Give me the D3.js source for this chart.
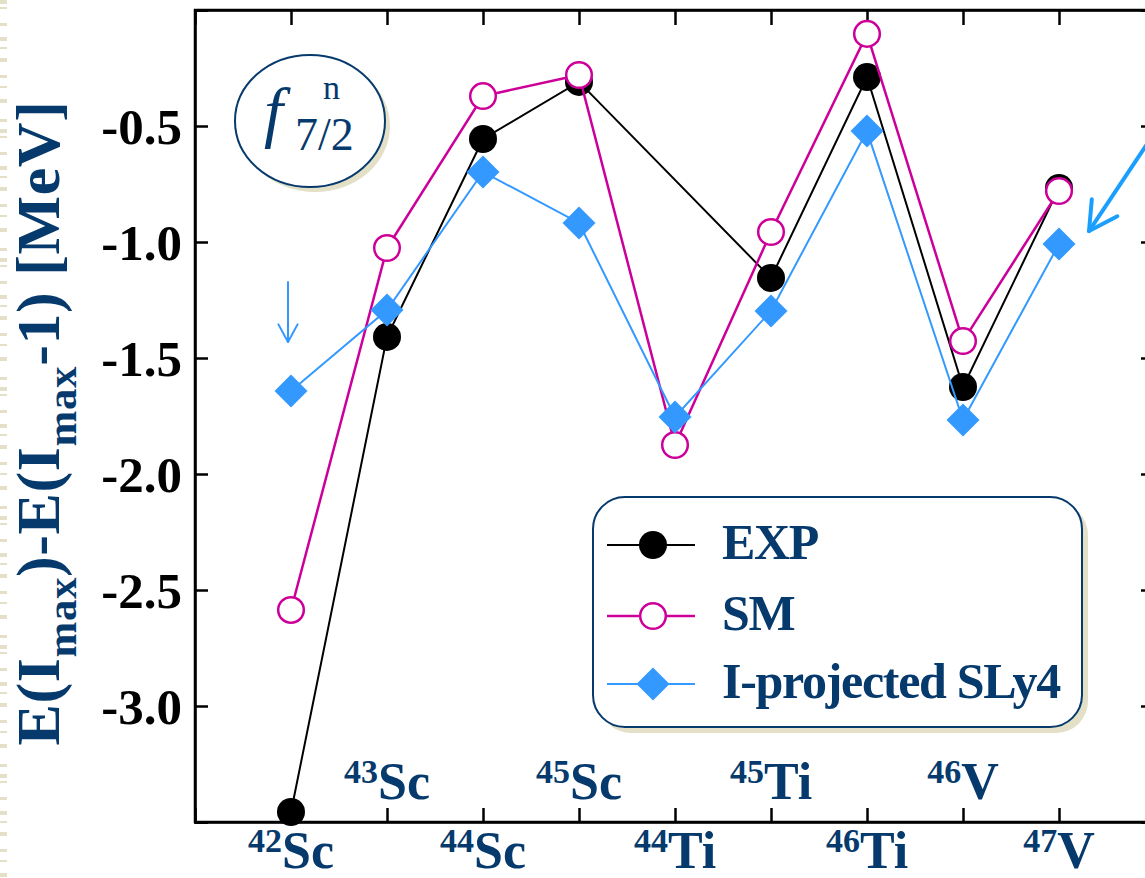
<!DOCTYPE html>
<html>
<head>
<meta charset="utf-8">
<script src="https://cdn.jsdelivr.net/npm/d3@7"></script>
<style>
  body { margin: 0; background: #fff; }
  svg { display: block; }
</style>
</head>
<body>
<svg id="chart" width="1145" height="878"></svg>
<script>
// Nuclei along the x axis (mass number + element symbol)
const massNumbers = ["42", "43", "44", "45", "44", "45", "46", "46", "47"];
const elements = ["Sc", "Sc", "Sc", "Sc", "Ti", "Ti", "Ti", "V", "V"];

// E(Imax) - E(Imax-1) in MeV
const expValues  = [-3.457, -1.409, -0.556, -0.310, null, -1.155, -0.289, -1.625, -0.767];
const smValues   = [-2.586, -1.026, -0.371, -0.280, -1.875, -0.957, -0.103, -1.427, -0.780];
const sly4Values = [-1.642, -1.293, -0.698, -0.918, -1.754, -1.297, -0.522, -1.767, -1.009];

const seriesNames = ["EXP", "SM", "I-projected SLy4"];

const yTicks = [0, -0.5, -1.0, -1.5, -2.0, -2.5, -3.0, -3.5];
const yTickLabels = ["", "-0.5", "-1.0", "-1.5", "-2.0", "-2.5", "-3.0", ""];

const NAVY = "#063a6d";
const MAGENTA = "#cc0099";
const BLUE = "#3399ff";
const BEIGE = "#e3e0c7";
const SERIF = "'Liberation Serif', 'Times New Roman', serif";

const svg = d3.select("#chart");

// decorative dashed strip on the page's left edge
svg.append("line")
  .attr("x1", 3.5).attr("x2", 3.5).attr("y1", 0).attr("y2", 878)
  .attr("stroke", BEIGE).attr("stroke-width", 7)
  .attr("stroke-dasharray", "4 3 2 14 3 11 4 6 2 9 4 13 3 8 2 11 4 16 3 7");

const plot = { left: 195, top: 10, right: 1155, bottom: 822 };

const x = d3.scaleLinear()
  .domain([-1, massNumbers.length])
  .range([plot.left, plot.right]);
const y = d3.scaleLinear()
  .domain([-3.5, 0])
  .range([plot.bottom, plot.top]);

const idx = d3.range(massNumbers.length);

// frame
svg.append("rect")
  .attr("x", plot.left).attr("y", plot.top)
  .attr("width", plot.right - plot.left).attr("height", plot.bottom - plot.top)
  .attr("fill", "none").attr("stroke", "#000").attr("stroke-width", 2.5);

function styleAxis(g) {
  g.select(".domain").attr("stroke", "#000").attr("stroke-width", 2.5);
  g.selectAll(".tick line").attr("stroke", "#000").attr("stroke-width", 2.5);
}

// x axes (ticks inward, no labels)
svg.append("g").attr("transform", `translate(0,${plot.bottom})`)
  .call(d3.axisBottom(x).tickValues(idx).tickSize(-14).tickFormat(""))
  .call(styleAxis);
svg.append("g").attr("transform", `translate(0,${plot.top})`)
  .call(d3.axisTop(x).tickValues(idx).tickSize(-15).tickFormat(""))
  .call(styleAxis);

// y axes
const yLeft = svg.append("g").attr("transform", `translate(${plot.left},0)`)
  .call(d3.axisLeft(y).tickValues(yTicks).tickSize(-13).tickPadding(13)
    .tickFormat((d, i) => yTickLabels[i]))
  .call(styleAxis);
yLeft.selectAll(".tick text")
  .attr("font-family", SERIF).attr("font-weight", "bold")
  .attr("font-size", 51).attr("fill", "#000").attr("dy", "0.34em");
svg.append("g").attr("transform", `translate(${plot.right},0)`)
  .call(d3.axisRight(y).tickValues(yTicks).tickSize(-14).tickFormat(""))
  .call(styleAxis);

// category labels: alternately below the axis and just above it
const catLabels = svg.append("g").attr("fill", NAVY)
  .attr("font-family", SERIF).attr("font-weight", "bold");
idx.forEach(i => {
  const t = catLabels.append("text")
    .attr("x", x(i))
    .attr("y", i % 2 === 0 ? 868 : 799)
    .attr("text-anchor", "middle");
  t.append("tspan").attr("font-size", 34).attr("dy", -16).text(massNumbers[i]);
  t.append("tspan").attr("font-size", 52).attr("dy", 16).text(elements[i]);
});

// y axis title
const yTitle = svg.append("text")
  .attr("transform", "translate(59,423) rotate(-90)")
  .attr("text-anchor", "middle")
  .attr("font-family", SERIF).attr("font-weight", "bold")
  .attr("font-size", 62).attr("fill", NAVY)
  .attr("letter-spacing", 0.6);
yTitle.append("tspan").text("E(I");
yTitle.append("tspan").attr("font-size", 43).attr("dy", 17).text("max");
yTitle.append("tspan").attr("dy", -17).text(")-E(I");
yTitle.append("tspan").attr("font-size", 43).attr("dy", 17).text("max");
yTitle.append("tspan").attr("dy", -17).text("-1) [MeV]");

// shell label in an ellipse
const shell = svg.append("g");
shell.append("ellipse").attr("cx", 315).attr("cy", 126).attr("rx", 75).attr("ry", 66)
  .attr("fill", BEIGE);
shell.append("ellipse").attr("cx", 310).attr("cy", 121).attr("rx", 75).attr("ry", 66)
  .attr("fill", "#fff").attr("stroke", NAVY).attr("stroke-width", 2);
shell.append("text").attr("x", 264).attr("y", 135)
  .attr("font-family", SERIF).attr("font-style", "italic")
  .attr("font-size", 68).attr("fill", NAVY).text("f");
shell.append("text").attr("x", 295).attr("y", 150)
  .attr("font-family", SERIF).attr("font-size", 46).attr("fill", NAVY).text("7/2");
shell.append("text").attr("x", 323).attr("y", 99)
  .attr("font-family", SERIF).attr("font-size", 34).attr("fill", NAVY).text("n");

// series
const diamond = d3.symbol(d3.symbolSquare, 545);

function drawLine(values, color, width) {
  const pts = idx.filter(i => values[i] !== null);
  svg.append("path")
    .datum(pts)
    .attr("fill", "none").attr("stroke", color).attr("stroke-width", width)
    .attr("d", d3.line().x(i => x(i)).y(i => y(values[i])));
  return pts;
}

const expPts = drawLine(expValues, "#000", 2);
svg.append("g").selectAll("circle").data(expPts).join("circle")
  .attr("cx", i => x(i)).attr("cy", i => y(expValues[i])).attr("r", 14)
  .attr("fill", "#000");

const smPts = drawLine(smValues, MAGENTA, 2.5);
svg.append("g").selectAll("circle").data(smPts).join("circle")
  .attr("cx", i => x(i)).attr("cy", i => y(smValues[i])).attr("r", 12.8)
  .attr("fill", "#fff").attr("stroke", MAGENTA).attr("stroke-width", 2.5);

const slyPts = drawLine(sly4Values, BLUE, 2);
svg.append("g").selectAll("path").data(slyPts).join("path")
  .attr("transform", i => `translate(${x(i)},${y(sly4Values[i])}) rotate(45)`)
  .attr("d", diamond()).attr("fill", BLUE);

// arrows marking the first and last SLy4 points
function arrow(x1, y1, x2, y2, head, spread, color, width) {
  const a = Math.atan2(y2 - y1, x2 - x1);
  const g = svg.append("g").attr("stroke", color).attr("stroke-width", width)
    .attr("fill", "none").attr("stroke-linecap", "round").attr("stroke-linejoin", "round");
  g.append("line").attr("x1", x1).attr("y1", y1).attr("x2", x2).attr("y2", y2);
  const p1 = [x2 - head * Math.cos(a - spread), y2 - head * Math.sin(a - spread)];
  const p2 = [x2 - head * Math.cos(a + spread), y2 - head * Math.sin(a + spread)];
  g.append("polyline").attr("points", `${p1} ${x2},${y2} ${p2}`);
}
const firstX = x(0), firstY = y(sly4Values[0]);
arrow(firstX - 3, firstY - 109, firstX - 3, firstY - 49, 20, 0.5, BLUE, 2);
const lastX = x(idx.length - 1), lastY = y(sly4Values[idx.length - 1]);
arrow(lastX + 92, lastY - 106, lastX + 30, lastY - 13, 32, 0.5, "#1a9fff", 4);

// legend
const lg = svg.append("g");
lg.append("rect").attr("x", 599).attr("y", 503).attr("width", 489).attr("height", 230)
  .attr("rx", 32).attr("fill", BEIGE);
lg.append("rect").attr("x", 593).attr("y", 497).attr("width", 489).attr("height", 230)
  .attr("rx", 32).attr("fill", "#fff").attr("stroke", NAVY).attr("stroke-width", 2);

const legendRows = [545, 616, 684];
const legendColors = ["#000", MAGENTA, BLUE];
legendRows.forEach((ly, k) => {
  lg.append("line").attr("x1", 607).attr("x2", 695).attr("y1", ly).attr("y2", ly)
    .attr("stroke", legendColors[k]).attr("stroke-width", k === 1 ? 2.5 : 2);
  if (k === 0) {
    lg.append("circle").attr("cx", 653).attr("cy", ly).attr("r", 14).attr("fill", "#000");
  } else if (k === 1) {
    lg.append("circle").attr("cx", 653).attr("cy", ly).attr("r", 12.8)
      .attr("fill", "#fff").attr("stroke", MAGENTA).attr("stroke-width", 2.5);
  } else {
    lg.append("path").attr("transform", `translate(653,${ly}) rotate(45)`)
      .attr("d", diamond()).attr("fill", BLUE);
  }
  lg.append("text").attr("x", 722).attr("y", ly + 14)
    .attr("font-family", SERIF).attr("font-weight", "bold")
    .attr("font-size", 50).attr("letter-spacing", -1.3)
    .attr("fill", NAVY).text(seriesNames[k]);
});
</script>
</body>
</html>
